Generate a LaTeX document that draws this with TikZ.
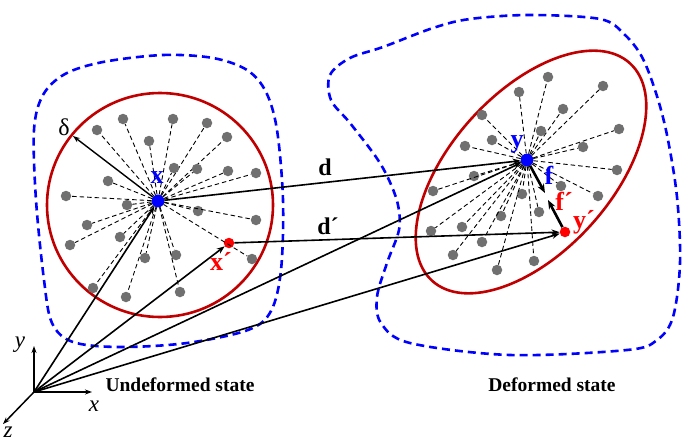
\documentclass[tikz,border=0pt]{standalone}
\usepackage{fontspec}
\setmainfont{Liberation Serif}
\usetikzlibrary{arrows.meta}
\definecolor{dotgray}{RGB}{112,112,112}
\definecolor{ringred}{RGB}{192,0,0}
\definecolor{pblue}{RGB}{0,0,255}
\definecolor{pred}{RGB}{255,0,0}
\begin{document}
\begin{tikzpicture}[x=1pt,y=-1pt,
  dot/.style={circle,fill=dotgray,inner sep=0pt,minimum size=10.5pt},
  bluedot/.style={circle,fill=pblue,inner sep=0pt,minimum size=12.5pt},
  reddot/.style={circle,fill=pred,inner sep=0pt,minimum size=10.5pt},
  spoke/.style={black,line width=0.9pt,dash pattern=on 4.5pt off 3pt},
  boundary/.style={pblue,line width=2.6pt,dash pattern=on 8pt off 5pt},
  ring/.style={ringred,line width=2.6pt},
  vec/.style={black,line width=1.6pt,-{Stealth[length=8pt,width=6pt]}},
  thinvec/.style={black,line width=1.4pt,-{Stealth[length=7pt,width=5pt]}},
  force/.style={black,line width=2.6pt,-{Stealth[length=9pt,width=7pt]}},
  axis/.style={black,line width=1.5pt,-{Stealth[length=7pt,width=5pt]}},
  lbl/.style={font=\fontsize{26}{26}\selectfont\bfseries,inner sep=0pt},
  dlbl/.style={font=\fontsize{24}{24}\selectfont\bfseries,inner sep=0pt},
  axlbl/.style={font=\fontsize{23}{23}\selectfont\itshape,inner sep=0pt},
  statelbl/.style={font=\fontsize{19.5}{19.5}\selectfont\bfseries,inner sep=0pt}
]
\useasboundingbox (0,0) rectangle (685,442);

% domain boundaries
\draw[boundary] plot[smooth cycle,tension=0.55] coordinates {
  (103,62) (163,55) (213,58) (247,70) (266,92) (277,130) (283,200)
  (281,270) (271,311) (248,330) (187,343) (120,347) (73,342) (52,323)
  (44,280) (36,200) (34,130) (43,95) (65,74)};
\draw[boundary] plot[smooth cycle,tension=0.55] coordinates {
  (330,75) (350,58) (383,47) (433,28) (470,19) (530,15) (600,19)
  (624,34) (642,57) (656,93) (667,135) (677,197) (680,263) (673,317)
  (657,340) (627,350) (510,355) (410,343) (381,323) (377,297) (387,263)
  (399,230) (398,205) (389,180) (376,157) (350,123) (331,100)};

% horizons
\draw[ring] (160,205) ellipse [x radius=113, y radius=112];
\draw[ring,rotate around={47.7:(531,172)}] (531,172) ellipse [x radius=147, y radius=80];

% material points
\node[bluedot] (X) at (158,201) {};
\node[reddot] (Xp) at (229,243) {};
\node[bluedot] (Y) at (527,160) {};
\node[reddot] (Yp) at (565,232) {};

\foreach \p [count=\i] in {(123,119),(173,119),(207,123),(97,130),(227,137),(149,141),
  (174,168),(197,169),(228,171),(256,173),(108,181),(66,196),(127,205),(198,211),
  (256,220),(87,225),(120,237),(70,245),(176,255),(145,258),(252,259),(93,288),
  (126,297),(180,292)} {
  \node[dot] (L\i) at \p {};
  \draw[spoke] (X) -- (L\i);
}
\foreach \p [count=\i] in {(548,77),(603,86),(519,92),(563,109),(482,115),(541,131),
  (619,129),(492,140),(465,146),(583,147),(474,176),(617,170),(561,186),(433,191),
  (522,194),(598,196),(501,216),(539,212),(462,227),(431,231),(482,242),(453,255),
  (534,261),(497,270)} {
  \node[dot] (R\i) at \p {};
  \draw[spoke] (Y) -- (R\i);
}
\node[bluedot] at (X) {};
\node[bluedot] at (Y) {};

% horizon radius
\coordinate (D) at (73,136);
\draw[thinvec] (X) -- (D);
\node[inner sep=0pt,font=\fontsize{24}{24}\selectfont] (delta) at (64,127) {δ};

% bonds
\draw[vec] (X) -- (Y);
\draw[vec] (Xp) -- (Yp);

% position vectors
\coordinate (O) at (34,392);
\draw[vec] (O) -- (X);
\draw[vec] (O) -- (Xp);
\draw[vec] (O) -- (Y);
\draw[vec] (O) -- (Yp);

% force states
\coordinate (F) at (545,193);
\coordinate (Fp) at (548,200);
\draw[force] (Y) -- (F);
\draw[force] (Yp) -- (Fp);

% axes
\coordinate (AY) at (34,346);
\coordinate (AX) at (92,392);
\coordinate (AZ) at (3,424);
\draw[axis] (O) -- (AY);
\draw[axis] (O) -- (AX);
\draw[axis] (O) -- (AZ);
\node[axlbl] (ly) at (20,345) {y};
\node[axlbl] (lx) at (94,406) {x};
\node[axlbl] (lz) at (8,432) {z};

% labels
\node[lbl,text=pblue] (lX) at (157,178) {x};
\node[lbl,text=pred] (lXp) at (221,261) {x´};
\node[lbl,text=pblue] (lY) at (517,144) {y};
\node[lbl,text=pred] (lYp) at (584,222) {y´};
\node[lbl,text=pblue] (lf) at (549,175) {f};
\node[lbl,text=pred] (lfp) at (564,201) {f´};
\node[dlbl] (ld) at (325,167) {d};
\node[dlbl] (ldp) at (328,226) {d´};
\node[statelbl] (und) at (180,385) {Undeformed state};
\node[statelbl] (def) at (552,385) {Deformed state};
\end{tikzpicture}
\end{document}
